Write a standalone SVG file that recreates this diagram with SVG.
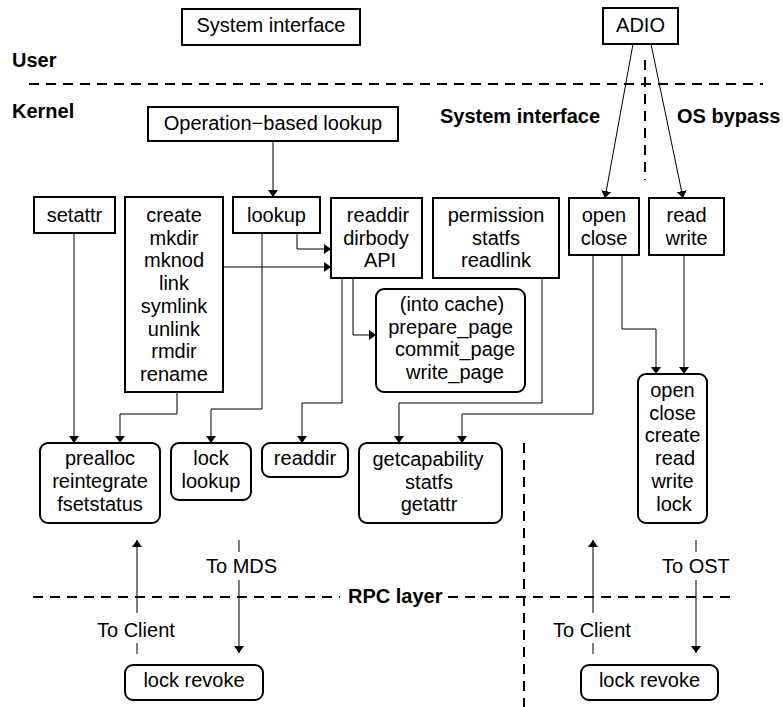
<svg xmlns="http://www.w3.org/2000/svg" width="783" height="707" viewBox="0 0 783 707">
<style>
  .box { fill: #fff; stroke: #000; stroke-width: 2; }
  .t { font-family: "Liberation Sans", Arial, sans-serif; font-size: 20px; fill: #000; text-anchor: middle; }
  .lbl { font-family: "Liberation Sans", Arial, sans-serif; font-size: 20px; font-weight: bold; fill: #000; }
  .pl { font-family: "Liberation Sans", Arial, sans-serif; font-size: 20px; fill: #000; }
  .dash { stroke: #000; stroke-width: 2; stroke-dasharray: 10 7; fill: none; }
  .c { stroke: #000; stroke-width: 1; fill: none; }
  .ca { stroke: #000; stroke-width: 1; fill: none; marker-end: url(#arr); }
</style>
<defs>
  <marker id="arr" markerUnits="userSpaceOnUse" markerWidth="10" markerHeight="10" refX="7" refY="5" orient="auto">
    <path d="M0,0 L7,5 L0,10 z" fill="#000"/>
  </marker>
</defs>
<rect width="783" height="707" fill="#fff"/>

<g id="layers">
  <line class="dash" x1="29" y1="84" x2="763" y2="84"/>
  <line class="dash" x1="645" y1="60" x2="645" y2="180"/>
  <line class="dash" x1="33" y1="597" x2="340" y2="597"/>
  <line class="dash" x1="448" y1="597" x2="737" y2="597"/>
  <line class="dash" x1="524" y1="443" x2="524" y2="707"/>
  <text class="lbl" x="12" y="67">User</text>
  <text class="lbl" x="12" y="118">Kernel</text>
  <text class="lbl" x="440" y="123">System interface</text>
  <text class="lbl" x="677" y="123">OS bypass</text>
  <text class="lbl" x="348" y="603">RPC layer</text>
</g>

<g id="connectors">
  <line class="ca" x1="273" y1="141" x2="273" y2="197"/>
  <line class="ca" x1="633" y1="44" x2="605" y2="198"/>
  <line class="ca" x1="651" y1="44" x2="683" y2="198"/>
  <polyline class="ca" points="297,233 297,249 331,249"/>
  <line class="ca" x1="223" y1="267" x2="331" y2="267"/>
  <polyline class="ca" points="353,278 353,335 376,335"/>
  <line class="ca" x1="74" y1="233" x2="74" y2="443"/>
  <polyline class="ca" points="177,392 177,414 120,414 120,443"/>
  <polyline class="ca" points="262,233 262,409 211,409 211,443"/>
  <polyline class="ca" points="342,278 342,403 302,403 302,443"/>
  <polyline class="ca" points="542,278 542,403 399,403 399,443"/>
  <polyline class="ca" points="593,255 593,414 462,414 462,443"/>
  <polyline class="ca" points="622,255 622,329 656,329 656,374"/>
  <line class="ca" x1="684" y1="255" x2="684" y2="374"/>
  <line class="ca" x1="137" y1="613" x2="137" y2="540"/>
  <line class="c" x1="137" y1="643" x2="137" y2="654"/>
  <line class="c" x1="239" y1="540" x2="239" y2="552"/>
  <line class="ca" x1="239" y1="580" x2="239" y2="653"/>
  <line class="ca" x1="593" y1="613" x2="593" y2="540"/>
  <line class="c" x1="593" y1="643" x2="593" y2="654"/>
  <line class="c" x1="696" y1="540" x2="696" y2="552"/>
  <line class="ca" x1="696" y1="580" x2="696" y2="653"/>
  <text class="pl" x="97" y="637">To Client</text>
  <text class="pl" x="553" y="637">To Client</text>
  <text class="pl" x="206" y="573">To MDS</text>
  <text class="pl" x="662" y="573">To OST</text>
</g>

<g id="sysif">
  <rect class="box" x="182" y="9" width="178" height="36"/>
  <text class="t" x="271" y="32">System interface</text>
</g>
<g id="adio">
  <rect class="box" x="603" y="8" width="75" height="36"/>
  <text class="t" x="640.5" y="32">ADIO</text>
</g>
<g id="oplookup">
  <rect class="box" x="148" y="107" width="250" height="34"/>
  <text class="t" x="273" y="130">Operation−based lookup</text>
</g>
<g id="setattr">
  <rect class="box" x="34" y="197" width="81" height="36"/>
  <text class="t" x="74.5" y="222">setattr</text>
</g>
<g id="create">
  <rect class="box" x="125" y="197" width="98" height="195"/>
  <text class="t" x="174" y="222">create</text>
  <text class="t" x="174" y="244.7">mkdir</text>
  <text class="t" x="174" y="267.4">mknod</text>
  <text class="t" x="174" y="290.1">link</text>
  <text class="t" x="174" y="312.8">symlink</text>
  <text class="t" x="174" y="335.5">unlink</text>
  <text class="t" x="174" y="358.2">rmdir</text>
  <text class="t" x="174" y="380.9">rename</text>
</g>
<g id="lookup">
  <rect class="box" x="233" y="197" width="87" height="36"/>
  <text class="t" x="276.5" y="222">lookup</text>
</g>
<g id="readdirapi">
  <rect class="box" x="331" y="198" width="91" height="80"/>
  <text class="t" x="378" y="222">readdir</text>
  <text class="t" x="376" y="244.5">dirbody</text>
  <text class="t" x="380" y="267">API</text>
</g>
<g id="permission">
  <rect class="box" x="433" y="198" width="126" height="80"/>
  <text class="t" x="496" y="222">permission</text>
  <text class="t" x="496" y="244.5">statfs</text>
  <text class="t" x="496" y="267">readlink</text>
</g>
<g id="openclose">
  <rect class="box" x="569" y="198" width="70" height="57"/>
  <text class="t" x="604" y="222">open</text>
  <text class="t" x="604" y="244.5">close</text>
</g>
<g id="readwrite">
  <rect class="box" x="649" y="198" width="75" height="57"/>
  <text class="t" x="686.5" y="222">read</text>
  <text class="t" x="686.5" y="244.5">write</text>
</g>
<g id="intocache">
  <rect class="box" x="376" y="289" width="149" height="103" rx="8"/>
  <text class="t" x="452" y="311">(into cache)</text>
  <text class="t" x="450.5" y="333.5">prepare_page</text>
  <text class="t" x="455" y="356">commit_page</text>
  <text class="t" x="455" y="378.5">write_page</text>
</g>
<g id="ost">
  <rect class="box" x="638" y="374" width="69" height="149" rx="8"/>
  <text class="t" x="672.5" y="397">open</text>
  <text class="t" x="672.5" y="419.7">close</text>
  <text class="t" x="672.5" y="442.4">create</text>
  <text class="t" x="675" y="465">read</text>
  <text class="t" x="672.5" y="487.8">write</text>
  <text class="t" x="674" y="510.5">lock</text>
</g>
<g id="prealloc">
  <rect class="box" x="40" y="443" width="120" height="80" rx="8"/>
  <text class="t" x="100" y="465">prealloc</text>
  <text class="t" x="100" y="488">reintegrate</text>
  <text class="t" x="100" y="511">fsetstatus</text>
</g>
<g id="locklookup">
  <rect class="box" x="171" y="443" width="80" height="57" rx="8"/>
  <text class="t" x="211" y="465">lock</text>
  <text class="t" x="211" y="488">lookup</text>
</g>
<g id="readdirsmall">
  <rect class="box" x="262" y="443" width="86" height="34" rx="8"/>
  <text class="t" x="305" y="465">readdir</text>
</g>
<g id="getcap">
  <rect class="box" x="359" y="443" width="143" height="80" rx="8"/>
  <text class="t" x="428" y="466">getcapability</text>
  <text class="t" x="429" y="488.5">statfs</text>
  <text class="t" x="429" y="511">getattr</text>
</g>
<g id="lockrevoke1">
  <rect class="box" x="125" y="665" width="138" height="35" rx="8"/>
  <text class="t" x="194" y="687">lock revoke</text>
</g>
<g id="lockrevoke2">
  <rect class="box" x="581" y="665" width="137" height="35" rx="8"/>
  <text class="t" x="649.5" y="687">lock revoke</text>
</g>
</svg>
